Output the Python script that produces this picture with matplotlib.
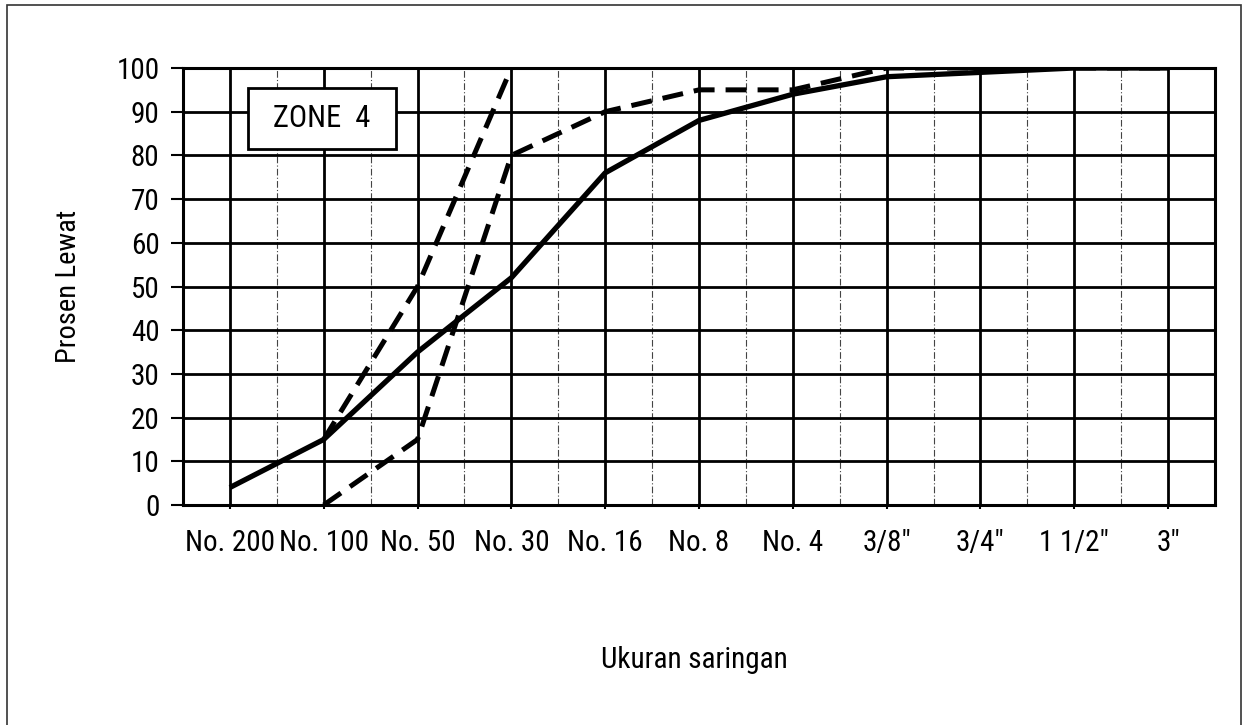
"""Sieve analysis chart, zone 4 limits vs. measured gradation."""
import matplotlib
matplotlib.use("Agg")
import matplotlib.pyplot as plt
from matplotlib import font_manager
from matplotlib.patches import Rectangle

# the original uses a narrow Arial; take a condensed family when one exists
NARROW = None
for fam in ["Liberation Sans Narrow", "Arial Narrow", "Roboto Condensed"]:
    try:
        font_manager.findfont(fam, fallback_to_default=False)
        NARROW = fam
        break
    except ValueError:
        pass
FONT = [NARROW or "Liberation Sans", "DejaVu Sans"]
# sizes picked so that label widths match the original
TICK_FS, ZONE_FS, YLAB_FS, XLAB_FS = (21, 22, 20.5, 21) if NARROW else (18, 18.5, 16, 17.5)
plt.rcParams.update({"font.family": FONT, "font.size": TICK_FS})

sieves = ["No. 200", "No. 100", "No. 50", "No. 30", "No. 16", "No. 8",
          "No. 4", '3/8"', '3/4"', '1 1/2"', '3"']
passing = [4, 15, 35, 52, 76, 88, 94, 98, 99, 100, 100]     # measured gradation
lower_sieves = sieves[1:]
lower = [0, 15, 80, 90, 95, 95, 100, 100, 100, 100]         # zone 4 lower limit
upper_sieves = sieves[1:4]
upper = [15, 50, 100]                                       # zone 4 upper limit

W, H = 1243, 725
fig = plt.figure(figsize=(W / 100, H / 100), dpi=100)
ax = fig.add_axes([183 / W, 1 - 505 / H, (1215 - 183) / W, (505 - 68) / H])

xi = {s: i for i, s in enumerate(sieves)}
n = len(sieves)

# grid: heavy lines on each sieve and every 10 %, light dashed half-way lines
for i in range(n):
    ax.axvline(i, color="black", lw=2.0, zorder=1)
    ax.axvline(i + 0.5, color="#444444", lw=0.8, ls=(0, (6, 2, 1, 2)), zorder=1)
for y in range(10, 100, 10):
    ax.axhline(y, color="black", lw=2.0, zorder=1)

ax.plot([xi[s] for s in sieves], passing, color="black", lw=3.8,
        solid_capstyle="butt", zorder=3)
ax.plot([xi[s] for s in lower_sieves], lower, color="black", lw=3.6,
        ls=(0, (4.2, 2.2)), zorder=3)
ax.plot([xi[s] for s in upper_sieves], upper, color="black", lw=3.6,
        ls=(0, (4.2, 2.2)), zorder=3)

ax.set_xlim(-0.5, n - 0.5)
ax.set_ylim(0, 100)
ax.set_yticks(range(0, 101, 10))
ax.set_xticks(range(n))
ax.set_xticklabels(sieves)
ax.tick_params(axis="y", length=9, width=1.5, pad=8, labelsize=TICK_FS)
ax.tick_params(axis="x", length=3, width=1.5, pad=14, labelsize=TICK_FS)
for sp in ax.spines.values():
    sp.set_linewidth(2.2)

# "ZONE 4" box
x0, x1 = (248 - 183) / 1032, (396 - 183) / 1032
y0, y1 = (505 - 149) / 437, (505 - 88) / 437
ax.add_patch(Rectangle((x0, y0), x1 - x0, y1 - y0, transform=ax.transAxes,
                       facecolor="white", edgecolor="black", lw=2.0, zorder=4))
ax.text((x0 + x1) / 2, (y0 + y1) / 2, "ZONE  4", transform=ax.transAxes,
        ha="center", va="center", fontsize=ZONE_FS, zorder=5)

fig.text(68 / W, 1 - 286 / H, "Prosen Lewat", rotation=90, ha="center",
         va="center", fontsize=YLAB_FS)
fig.text(694 / W, 1 - 660 / H, "Ukuran saringan", ha="center", va="center",
         fontsize=XLAB_FS)

# outer frame of the original sheet
fig.patches.append(Rectangle((7 / W, -0.02), (1241 - 7) / W, 1.02 - 5 / H,
                             transform=fig.transFigure, fill=False,
                             edgecolor="#333333", lw=1.2))

fig.savefig("out.png", dpi=100)
